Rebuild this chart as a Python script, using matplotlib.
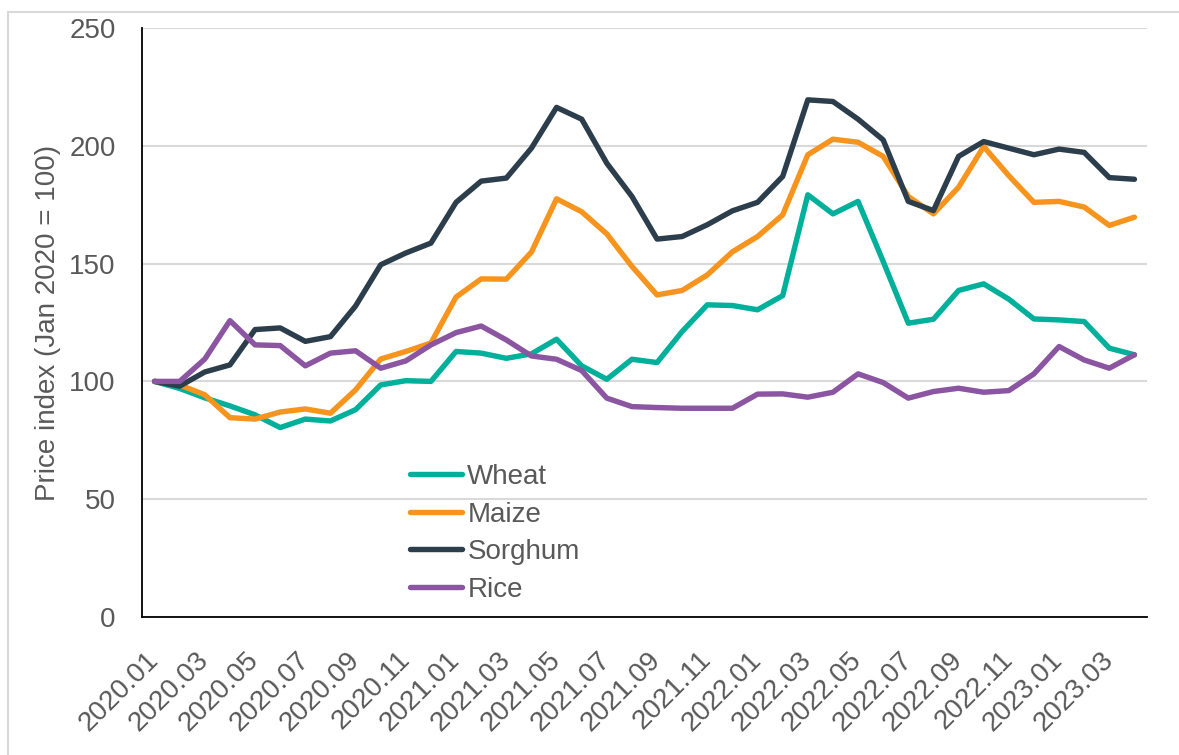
import matplotlib
matplotlib.use("Agg")
import matplotlib.pyplot as plt
from matplotlib.patches import Rectangle

# months 2020.01 .. 2023.04
months = [f"{y}.{m:02d}" for y in (2020, 2021, 2022, 2023) for m in range(1, 13)][:40]

wheat = [100, 97, 93, 89.6, 85.8, 80.4, 84, 83.2, 88, 98.5, 100.3, 100, 112.7, 112,
         109.8, 111.7, 117.9, 106.6, 100.9, 109.4, 108, 121.2, 132.5, 132.2, 130.4, 136.4,
         179.2, 171.1, 176.4, 150.9, 124.7, 126.4, 138.6, 141.4, 134.9, 126.5, 126.1, 125.4,
         114.1, 111.3]
maize = [100, 98.5, 94.3, 84.6, 84, 87, 88.3, 86.5, 96.4, 109.5, 112.7, 116.3, 135.8, 143.5,
         143.4, 154.9, 177.5, 172, 162.6, 148.8, 136.7, 138.6, 145.2, 155, 161.5, 170.7,
         196.2, 202.8, 201.5, 195.5, 178.5, 171.1, 182.4, 199.7, 187.3, 176, 176.4, 174,
         166.2, 169.7]
sorghum = [100, 98, 104, 107, 122, 122.7, 117, 119, 132, 149.5, 154.5, 158.7, 176, 185,
           186.3, 199, 216.3, 211.3, 192.6, 178.5, 160.4, 161.5, 166.5, 172.4, 176, 187,
           219.5, 218.8, 211.3, 202.5, 176.4, 172.5, 195.5, 201.8, 199, 196.2, 198.6, 197.2,
           186.5, 185.8]
rice = [100, 100, 109.5, 125.8, 115.5, 115.2, 106.6, 112, 113, 105.6, 108.7, 115.5, 120.7, 123.5,
        117.6, 110.8, 109.4, 104.6, 92.9, 89.3, 88.9, 88.6, 88.6, 88.6, 94.6, 94.7,
        93.3, 95.4, 103.2, 99.5, 92.9, 95.7, 97.1, 95.4, 96.1, 103.2, 114.8, 109.1,
        105.6, 111.3]

series = [("Wheat", wheat, "#00b09b"), ("Maize", maize, "#f7941d"),
          ("Sorghum", sorghum, "#2c3e4c"), ("Rice", rice, "#8b55a2")]

plt.rcParams['font.family'] = ['Liberation Sans', 'DejaVu Sans']
txt = "#595959"

fig = plt.figure(figsize=(11.79, 7.55), dpi=100)
ax = fig.add_axes([142 / 1179, 1 - 617 / 755, (1147 - 142) / 1179, (617 - 28) / 755])

# outer chart border (left and top visible)
fig.patches.append(Rectangle((8 / 1179, -0.1), 1.2, 1.1 - 12 / 755, transform=fig.transFigure,
                             fill=False, edgecolor="#d9d9d9", linewidth=1.5))

x = list(range(len(months)))
for name, vals, col in series:
    ax.plot(x, vals, color=col, lw=3.9, label=name,
            solid_capstyle="round", solid_joinstyle="round")

ax.set_xlim(-0.5, len(months) - 0.5)
ax.set_ylim(0, 250)
ax.set_yticks(range(0, 251, 50))
ax.grid(axis="y", color="#d9d9d9", lw=1.5)
ax.set_axisbelow(True)

ax.set_xticks(x[::2])
ax.set_xticklabels(months[::2], rotation=45, ha="right", va="center",
                   rotation_mode="anchor")
ax.tick_params(axis="both", length=0, labelsize=20, labelcolor=txt)
ax.tick_params(axis="y", pad=19)
ax.tick_params(axis="x", pad=28)

for s in ("top", "right"):
    ax.spines[s].set_visible(False)
for s in ("left", "bottom"):
    ax.spines[s].set_linewidth(1.3)
    ax.spines[s].set_color("black")

ax.set_ylabel("Price index (Jan 2020 = 100)", fontsize=20, color=txt, labelpad=6)

leg = ax.legend(loc="upper left", bbox_to_anchor=(0.267, 0.26), frameon=False,
                fontsize=20, handlelength=1.85, handletextpad=0.2, labelspacing=0.42,
                borderpad=0, borderaxespad=0)
for t in leg.get_texts():
    t.set_color(txt)

fig.savefig("out.png", dpi=100)
